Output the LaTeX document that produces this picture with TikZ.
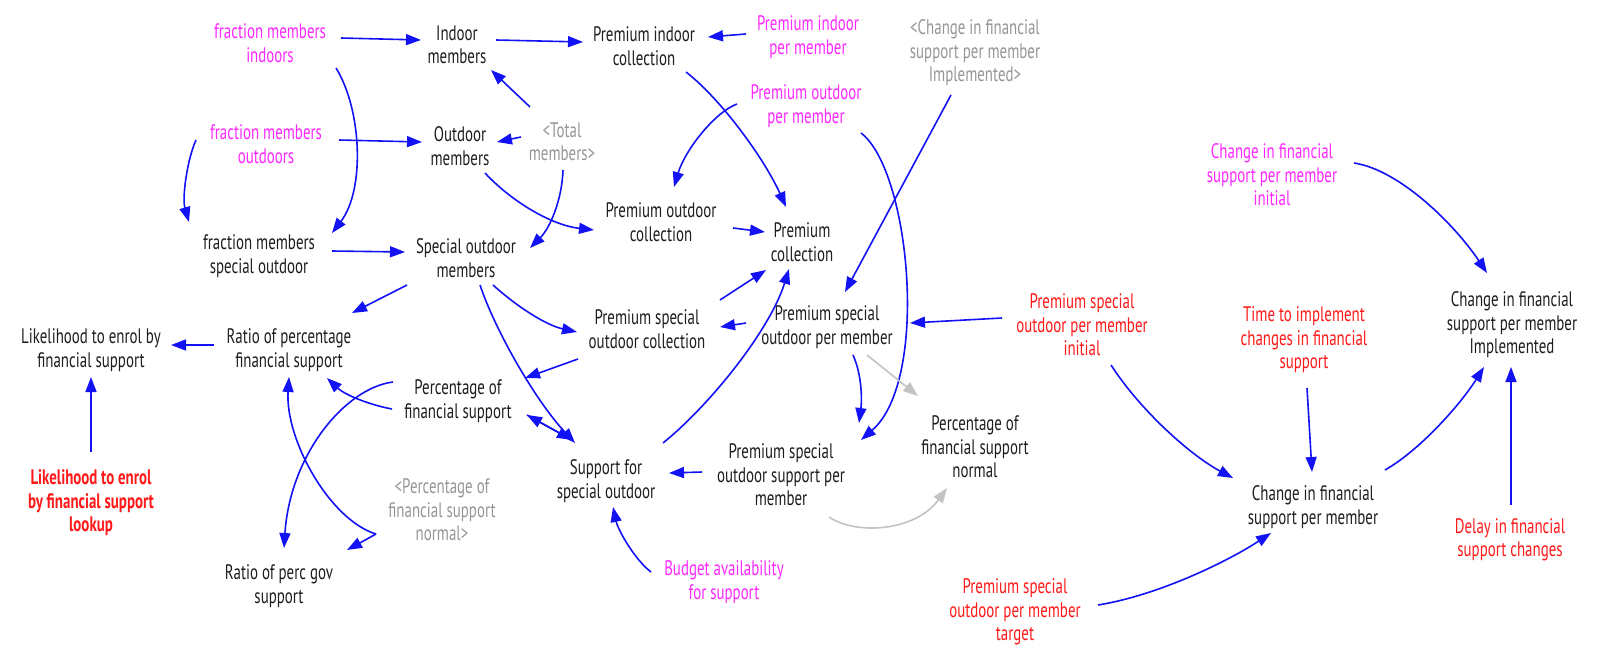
\documentclass[tikz,border=0pt]{standalone}
\usepackage{fontspec}
\setmainfont{PT Sans}[FakeStretch=0.71]
\usetikzlibrary{arrows.meta}
\definecolor{linkblue}{RGB}{18,18,245}
\definecolor{linkgray}{RGB}{195,195,195}
\definecolor{txtblack}{RGB}{30,30,30}
\definecolor{txtmagenta}{RGB}{255,40,255}
\definecolor{txtred}{RGB}{255,25,25}
\definecolor{txtgray}{RGB}{150,150,150}
\begin{document}
\begin{tikzpicture}[x=1pt,y=-1pt,
  var/.style={align=center, inner sep=0pt,
    font=\fontsize{21}{23.5}\selectfont, text=txtblack},
  const/.style={var, text=txtmagenta},
  param/.style={var, text=txtred},
  shadow/.style={var, text=txtgray},
  link/.style={draw=linkblue, line width=1.6pt,
    -{Triangle[length=15pt,width=11pt]}},
  glink/.style={link, draw=linkgray}]
\useasboundingbox (0,0) rectangle (1597,653);
\fill[white] (0,0) rectangle (1597,653);

% --- variables ---
\node[const]  (fmi)     at (270,43)  {fraction members\\indoors};
\node[var]    (indoor)  at (457,45)  {Indoor\\members};
\node[var]    (pic)     at (644,46)  {Premium indoor\\collection};
\node[const]  (pipm)    at (808,37)  {Premium indoor\\per member};
\node[shadow] (cfsish)  at (975,53)  {<Change in financial\\support per member\\Implemented>};
\node[const]  (fmo)     at (266,144) {fraction members\\outdoors};
\node[var]    (outdoor) at (460,146) {Outdoor\\members};
\node[shadow] (total)   at (562,142) {<Total\\members>};
\node[const]  (popm)    at (806,106) {Premium outdoor\\per member};
\node[var]    (poc)     at (661,222) {Premium outdoor\\collection};
\node[var]    (pc)      at (802,242) {Premium\\collection};
\node[var]    (fmso)    at (259,256) {fraction members\\special outdoor};
\node[var]    (som)     at (466,258) {Special outdoor\\members};
\node[const]  (cfsinit) at (1272,175) {Change in financial\\support per member\\initial};
\node[var]    (psopm)   at (827,327) {Premium special\\outdoor per member};
\node[var]    (psoc)    at (647,329) {Premium special\\outdoor collection};
\node[param]  (psopmi)  at (1082,325) {Premium special\\outdoor per member\\initial};
\node[param]  (tti)     at (1304,340) {Time to implement\\changes in financial\\support};
\node[var]    (cfsimpl) at (1512,325) {Change in financial\\support per member\\Implemented};
\node[var]    (lefs)    at (91,350)  {Likelihood to enrol by\\financial support};
\node[var]    (rpfs)    at (289,350) {Ratio of percentage\\financial support};
\node[var]    (pfs)     at (458,401) {Percentage of\\financial support};
\node[param, font=\fontsize{21}{23.5}\selectfont\bfseries]
              (lefsl)   at (91,503)  {Likelihood to enrol\\by financial support\\lookup};
\node[shadow] (pfsnsh)  at (442,510) {<Percentage of\\financial support\\normal>};
\node[var]    (rpgs)    at (279,586) {Ratio of perc gov\\support};
\node[var]    (sso)     at (606,481) {Support for\\special outdoor};
\node[var]    (psospm)  at (781,475) {Premium special\\outdoor support per\\member};
\node[var]    (pfsn)    at (975,447) {Percentage of\\financial support\\normal};
\node[const]  (bas)     at (724,582) {Budget availability\\for support};
\node[param]  (psopmt)  at (1015,612) {Premium special\\outdoor per member\\target};
\node[var]    (cfspm)   at (1313,507) {Change in financial\\support per member};
\node[param]  (dfsc)    at (1510,540) {Delay in financial\\support changes};

% --- membership links ---
\draw[link] ([shift={(71,-5)}]fmi.center) -- ([shift={(-36,-5)}]indoor.center);
\draw[link] ([shift={(39,-5)}]indoor.center) -- ([shift={(-61,-4)}]pic.center);
\draw[link] ([shift={(-62,-3)}]pipm.center) -- ([shift={(64,-9)}]pic.center);
\draw[link] ([shift={(66,25)}]fmi.center) .. controls (362,110) and (365,190) .. ([shift={(73,-23)}]fmso.center);
\draw[link] ([shift={(73,-4)}]fmo.center) -- ([shift={(-38,-4)}]outdoor.center);
\draw[link] ([shift={(-70,-4)}]fmo.center) .. controls (187,160) and (182,198) .. ([shift={(-70,-34)}]fmso.center);
\draw[link] ([shift={(-32,-35)}]total.center) -- ([shift={(34,25)}]indoor.center);
\draw[link] ([shift={(-41,-5)}]total.center) -- ([shift={(37,-4)}]outdoor.center);
\draw[link] ([shift={(1,28)}]total.center) .. controls (562,200) and (550,228) .. ([shift={(64,-10)}]som.center);
\draw[link] ([shift={(25,27)}]outdoor.center) .. controls (510,200) and (550,225) .. ([shift={(-67,8)}]poc.center);
\draw[link] ([shift={(73,-5)}]fmso.center) -- ([shift={(-61,-6)}]som.center);

% --- premium collection links ---
\draw[link] ([shift={(42,26)}]pic.center) .. controls (722,100) and (765,160) .. ([shift={(-16,-35)}]pc.center);
\draw[link] ([shift={(-69,-2)}]popm.center) .. controls (715,112) and (685,150) .. ([shift={(13,-35)}]poc.center);
\draw[link] ([shift={(55,27)}]popm.center) .. controls (910,170) and (930,380) .. ([shift={(80,-35)}]psospm.center);
\draw[link] ([shift={(-24,42)}]cfsish.center) -- ([shift={(18,-35)}]psopm.center);
\draw[link] ([shift={(72,6)}]poc.center) -- ([shift={(-37,-10)}]pc.center);
\draw[link] ([shift={(73,-29)}]psoc.center) -- ([shift={(-36,28)}]pc.center);
\draw[link] ([shift={(57,-38)}]sso.center) .. controls (710,405) and (770,330) .. ([shift={(-13,27)}]pc.center);
\draw[link] ([shift={(-81,-4)}]psopm.center) -- ([shift={(73,-2)}]psoc.center);
\draw[link] ([shift={(-80,-7)}]psopmi.center) -- ([shift={(83,-4)}]psopm.center);
\draw[link] ([shift={(26,28)}]psopm.center) .. controls (862,375) and (862,400) .. ([shift={(78,-52)}]psospm.center);
\draw[glink] ([shift={(40,28)}]psopm.center) -- ([shift={(-57,-51)}]pfsn.center);
\draw[glink] ([shift={(48,42)}]psospm.center) .. controls (855,535) and (915,532) .. ([shift={(-28,41)}]pfsn.center);
\draw[link] ([shift={(-79,-3)}]psospm.center) -- ([shift={(63,-8)}]sso.center);
\draw[link] ([shift={(-73,-10)}]bas.center) .. controls (635,560) and (618,530) .. ([shift={(7,26)}]sso.center);

% --- special outdoor links ---
\draw[link] ([shift={(27,27)}]som.center) .. controls (515,305) and (545,325) .. ([shift={(-70,3)}]psoc.center);
\draw[link] ([shift={(14,27)}]som.center) .. controls (495,330) and (535,400) .. ([shift={(-31,-38)}]sso.center);
\draw[link] ([shift={(-69,30)}]psoc.center) -- ([shift={(67,-23)}]pfs.center);
\draw[link] ([shift={(69,14)}]pfs.center) -- ([shift={(-34,-41)}]sso.center);
\draw[link] ([shift={(-34,-41)}]sso.center) -- ([shift={(69,14)}]pfs.center);
\draw[link] ([shift={(-59,27)}]som.center) -- ([shift={(63,-37)}]rpfs.center);

% --- financial support ratios ---
\draw[link] ([shift={(-66,8)}]pfs.center) .. controls (370,405) and (345,395) .. ([shift={(38,28)}]rpfs.center);
\draw[link] ([shift={(-65,-19)}]pfs.center) .. controls (345,388) and (290,455) .. ([shift={(5,-38)}]rpgs.center);
\draw[link] ([shift={(-66,24)}]pfsnsh.center) .. controls (330,520) and (285,440) .. ([shift={(0,27)}]rpfs.center);
\draw[link] ([shift={(-66,24)}]pfsnsh.center) -- ([shift={(68,-36)}]rpgs.center);
\draw[link] ([shift={(-75,-5)}]rpfs.center) -- ([shift={(80,-5)}]lefs.center);
\draw[link] ([shift={(0,-51)}]lefsl.center) -- ([shift={(0,27)}]lefs.center);

% --- financial support change chain ---
\draw[link] ([shift={(82,-12)}]cfsinit.center) .. controls (1400,170) and (1455,225) .. ([shift={(-25,-52)}]cfsimpl.center);
\draw[link] ([shift={(29,40)}]psopmi.center) .. controls (1140,410) and (1190,455) .. ([shift={(-80,-29)}]cfspm.center);
\draw[link] ([shift={(3,48)}]tti.center) -- ([shift={(-1,-35)}]cfspm.center);
\draw[link] ([shift={(72,-37)}]cfspm.center) .. controls (1420,450) and (1460,405) .. ([shift={(-28,42)}]cfsimpl.center);
\draw[link] ([shift={(1,-35)}]dfsc.center) -- ([shift={(-1,42)}]cfsimpl.center);
\draw[link] ([shift={(83,-7)}]psopmt.center) .. controls (1160,595) and (1230,560) .. ([shift={(-42,26)}]cfspm.center);
\end{tikzpicture}
\end{document}
